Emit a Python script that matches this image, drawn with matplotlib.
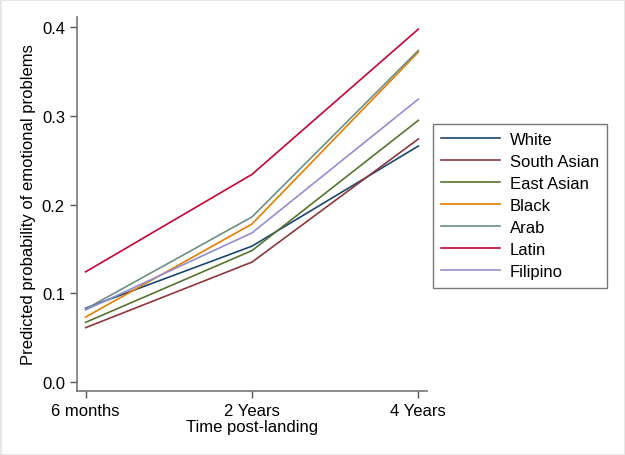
import matplotlib.pyplot as plt

plt.rcParams['font.family'] = ['Liberation Sans', 'DejaVu Sans']

# time points and predicted probabilities per group
time_labels = ['6 months', '2 Years', '4 Years']
groups = ['White', 'South Asian', 'East Asian', 'Black', 'Arab', 'Latin', 'Filipino']
white = [0.083, 0.153, 0.266]
south_asian = [0.061, 0.135, 0.274]
east_asian = [0.067, 0.148, 0.295]
black = [0.073, 0.178, 0.372]
arab = [0.082, 0.186, 0.374]
latin = [0.124, 0.234, 0.398]
filipino = [0.081, 0.168, 0.319]
series = [white, south_asian, east_asian, black, arab, latin, filipino]
colors = ['#1a476f', '#90353b', '#55752f', '#e37e00', '#6e8e84', '#c10534', '#938dd2']

fig = plt.figure(figsize=(6.25, 4.56), dpi=100)
fig.patch.set_edgecolor('#e6e6e6')
fig.patch.set_linewidth(2)
ax = fig.add_axes([0.1227, 0.1404, 0.56, 0.82])

x = range(len(time_labels))
for name, vals, c in zip(groups, series, colors):
    ax.plot(x, vals, color=c, lw=1.2, label=name)

ax.set_xlim(-0.054, 2.05)
ax.set_ylim(-0.0105, 0.4116)
ax.set_xticks(list(x))
ax.set_xticklabels(time_labels)
ax.set_yticks([0.0, 0.1, 0.2, 0.3, 0.4])
ax.set_yticklabels(['0.0', '0.1', '0.2', '0.3', '0.4'])
ax.tick_params(labelsize=12, color='#555555', length=5, width=1)
ax.spines['top'].set_visible(False)
ax.spines['right'].set_visible(False)
for s in ['left', 'bottom']:
    ax.spines[s].set_color('#777777')
    ax.spines[s].set_linewidth(1.2)

ax.set_ylabel('Predicted probability of emotional problems', fontsize=12, labelpad=4)
ax.set_xlabel('Time post-landing', fontsize=12, labelpad=1)

leg = ax.legend(loc='upper left', bbox_to_anchor=(0.6928, 0.7259),
                bbox_transform=fig.transFigure, fontsize=12, frameon=True,
                fancybox=False, handlelength=3.5, handletextpad=0.6,
                labelspacing=0.42, borderpad=0.5, borderaxespad=0)
leg.get_frame().set_edgecolor('#555555')
leg.get_frame().set_linewidth(1.0)

fig.savefig('out.png', dpi=100)
